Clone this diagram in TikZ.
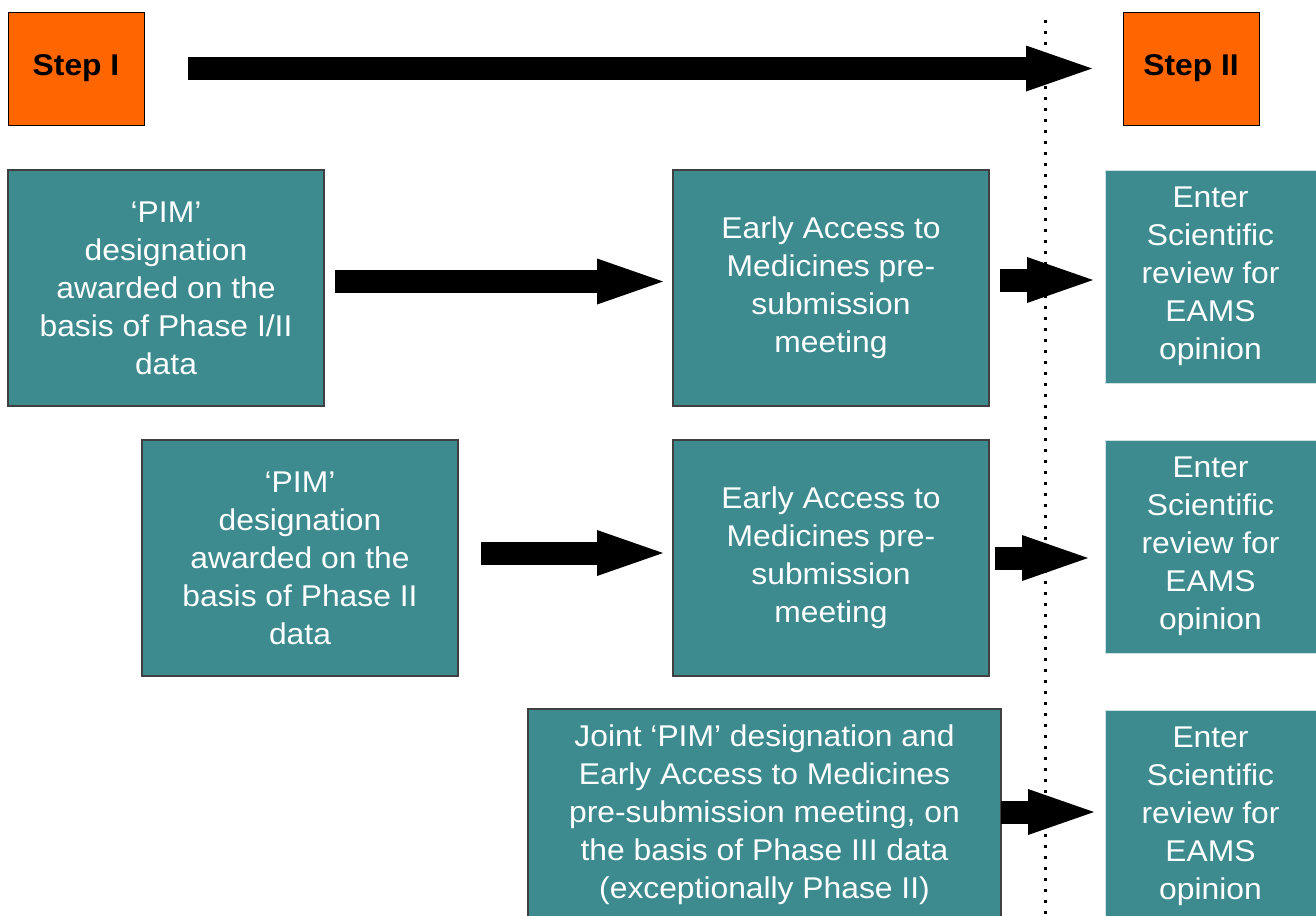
\documentclass[tikz,border=0pt]{standalone}
\usepackage{fontspec}
\setmainfont[FakeStretch=1.06]{Liberation Sans}
\usepackage{tikz}
\usetikzlibrary{positioning, arrows.meta}

\definecolor{boxteal}{RGB}{61,139,143}
\definecolor{steporange}{RGB}{255,102,0}
\newcommand{\boxfont}{\fontsize{22.5pt}{28.5pt}\selectfont}

\begin{document}
\begin{tikzpicture}[
    stepbox/.style={draw=black, line width=0.75pt, fill=steporange, minimum width=102pt, minimum height=84.75pt, inner sep=0pt, outer sep=0pt, font=\boxfont\bfseries},
    phasebox/.style={draw=black!75, line width=0.9pt, fill=boxteal, text=white, align=center, minimum width=237pt, minimum height=177pt, inner sep=0pt, outer sep=0pt, font=\boxfont},
    reviewbox/.style={draw=boxteal!25, line width=0.75pt, fill=boxteal, text=white, align=center, minimum width=158.25pt, minimum height=159.75pt, inner sep=0pt, outer sep=0pt, font=\boxfont},
    bigarrow/.style={line width=17.25pt, -{Triangle[length=49.5pt, width=34.5pt, line width=0pt]}}
]
    \useasboundingbox (0,0) rectangle (987pt,-686.25pt);

    \node[stepbox] (stepI) at (57pt,-51.375pt) {Step I};
    \node[stepbox, right=734.25pt of stepI] (stepII) {Step II};

    \node[phasebox, below right=33.75pt and 0pt of stepI.south west] (pimA) {‘PIM’\\designation\\awarded on the\\basis of Phase I/II\\data};
    \node[phasebox, right=261.75pt of pimA] (eamA) {Early Access to\\Medicines pre-\\submission\\meeting};
    \node[reviewbox, below right=0pt and 87pt of eamA.north east] (sciA) {Enter\\Scientific\\review for\\EAMS\\opinion};

    \node[phasebox, below=25.5pt of eamA] (eamB) {Early Access to\\Medicines pre-\\submission\\meeting};
    \node[phasebox, left=161.25pt of eamB] (pimB) {‘PIM’\\designation\\awarded on the\\basis of Phase II\\data};
    \node[reviewbox, below right=0pt and 87pt of eamB.north east] (sciB) {Enter\\Scientific\\review for\\EAMS\\opinion};

    \node[phasebox, minimum width=354.75pt, minimum height=159pt, below left=24.75pt and -9pt of eamB.south east] (joint) {Joint ‘PIM’ designation and\\Early Access to Medicines\\pre-submission meeting, on\\the basis of Phase III data\\(exceptionally Phase II)};
    \node[reviewbox, below=42.75pt of sciB] (sciC) {Enter\\Scientific\\review for\\EAMS\\opinion};

    % dotted divider between the two steps
    \coordinate (divtop) at (783.75pt,-15pt);
    \coordinate (divbot) at (783.75pt,-686.25pt);
    \draw[line width=2.25pt, dash pattern=on 2.25pt off 6pt] (divtop) -- (divbot);

    \draw[bigarrow, shorten <=33pt, shorten >=23.25pt] (stepI) -- (stepII);

    \draw[bigarrow, shorten <=8.25pt, shorten >=7.5pt] ([yshift=4.875pt]pimA.east) -- ([yshift=4.875pt]eamA.west);
    \draw[bigarrow, shorten <=8.25pt, shorten >=9pt] ([yshift=6pt]eamA.east) -- ([yshift=6pt]eamA.east -| sciA.west);

    \draw[bigarrow, shorten <=17.25pt, shorten >=7.5pt] ([yshift=3.75pt]pimB.east) -- ([yshift=3.75pt]eamB.west);
    \draw[bigarrow, shorten <=4.5pt, shorten >=12.75pt] (eamB.east) -- (eamB.east -| sciB.west);

    \draw[bigarrow, shorten >=8.25pt] ([yshift=2.25pt]joint.east) -- ([yshift=2.25pt]joint.east -| sciC.west);
\end{tikzpicture}
\end{document}
